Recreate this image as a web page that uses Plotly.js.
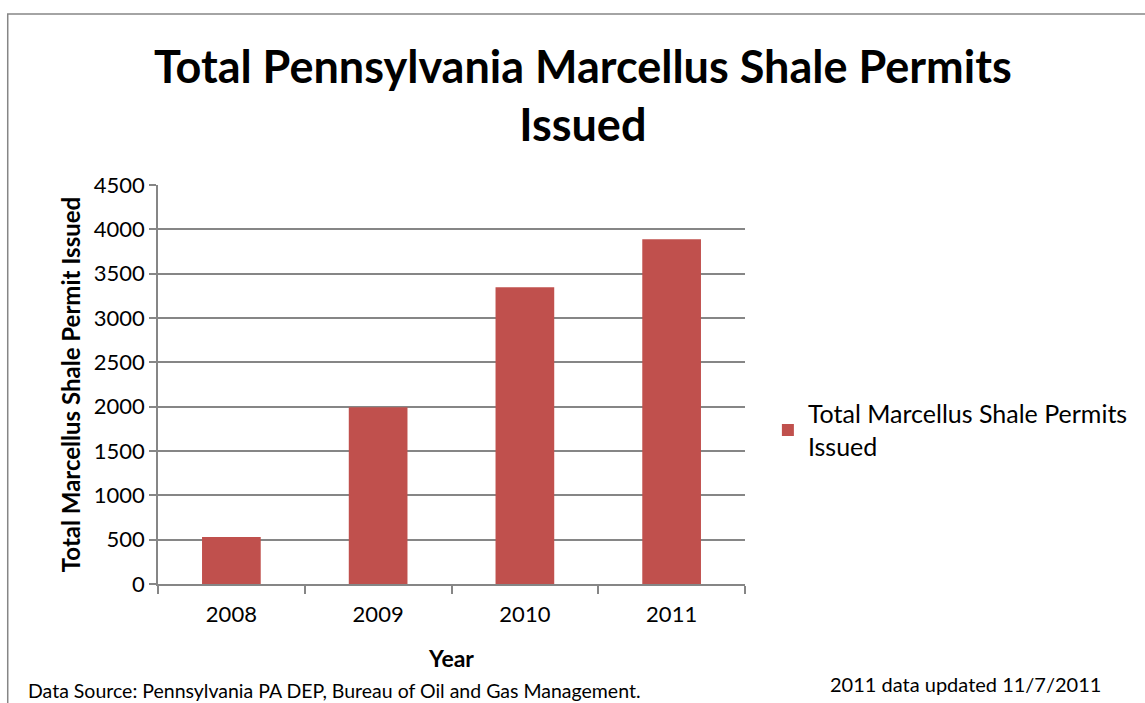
<!DOCTYPE html>
<html>
<head>
<meta charset="utf-8">
<script src="https://cdn.plot.ly/plotly-3.0.1.min.js"></script>
<style>html,body{margin:0;padding:0;background:#fff;}#chart{width:1145px;height:703px;}</style>
</head>
<body>
<div id="chart"></div>
<script>
var years = ["2008", "2009", "2010", "2011"];
var permits = [530, 1994, 3348, 3888];
var seriesName = "Total Marcellus Shale Permits<br>Issued";
var yTicks = [0, 500, 1000, 1500, 2000, 2500, 3000, 3500, 4000, 4500];

var FONT = "Lato, 'Open Sans', sans-serif";
var grid = "#868686";

var data = [{
  type: "bar",
  x: years,
  y: permits,
  name: seriesName,
  marker: {color: "#C0504D", line: {width: 0}},
  hoverinfo: "x+y"
}];

var layout = {
  width: 1145, height: 703,
  paper_bgcolor: "#ffffff", plot_bgcolor: "#ffffff",
  margin: {l: 158, r: 397, t: 185, b: 119},
  font: {family: FONT, color: "#000"},
  title: {
    text: "<b>Total Pennsylvania Marcellus Shale Permits<br>Issued</b>",
    font: {family: FONT, size: 45, color: "#000"},
    xref: "container", x: 0.509, xanchor: "center",
    yref: "container", y: 0.882, yanchor: "top"
  },
  bargap: 0.6,
  showlegend: true,
  legend: {
    x: 1.039, xanchor: "left", y: 0.386, yanchor: "middle",
    font: {family: FONT, size: 25, color: "#000"},
    bgcolor: "rgba(0,0,0,0)", itemwidth: 30
  },
  xaxis: {
    type: "category",
    showline: true, linecolor: grid, linewidth: 1.5,
    ticks: "outside", tickson: "boundaries", ticklen: 8, tickcolor: grid, tickwidth: 1.5,
    ticklabelstandoff: 10,
    tickfont: {family: FONT, size: 22, color: "#000"},
    showgrid: false,
    title: {text: "<b>Year</b>", font: {family: FONT, size: 23, color: "#000"}, standoff: 25},
    fixedrange: true
  },
  yaxis: {
    range: [0, 4500],
    tickvals: yTicks,
    showline: true, linecolor: grid, linewidth: 1.5,
    ticks: "outside", ticklen: 7, tickcolor: grid, tickwidth: 1.5,
    showgrid: true, gridcolor: grid, gridwidth: 1.5,
    zeroline: false,
    tickfont: {family: FONT, size: 22, color: "#000"},
    title: {text: "<b>Total Marcellus Shale Permit Issued</b>", font: {family: FONT, size: 24, color: "#000"}, standoff: 6},
    fixedrange: true
  },
  shapes: [{
    type: "rect", xref: "paper", yref: "paper",
    x0: -0.256, x1: 1.7, y0: -0.5, y1: 1.4286,
    line: {color: "#868686", width: 1.5}, fillcolor: "rgba(0,0,0,0)", layer: "below"
  }],
  annotations: [
    {text: "Data Source: Pennsylvania PA DEP, Bureau of Oil and Gas Management.",
     xref: "paper", yref: "paper", x: -0.225, y: -0.2657, xanchor: "left", yanchor: "middle",
     showarrow: false, font: {family: FONT, size: 19.5, color: "#000"}},
    {text: "2011 data updated 11/7/2011",
     xref: "paper", yref: "paper", x: 1.375, y: -0.2506, xanchor: "center", yanchor: "middle",
     showarrow: false, font: {family: FONT, size: 20, color: "#000"}}
  ]
};

Plotly.newPlot("chart", data, layout, {displayModeBar: false});
</script>
</body>
</html>
